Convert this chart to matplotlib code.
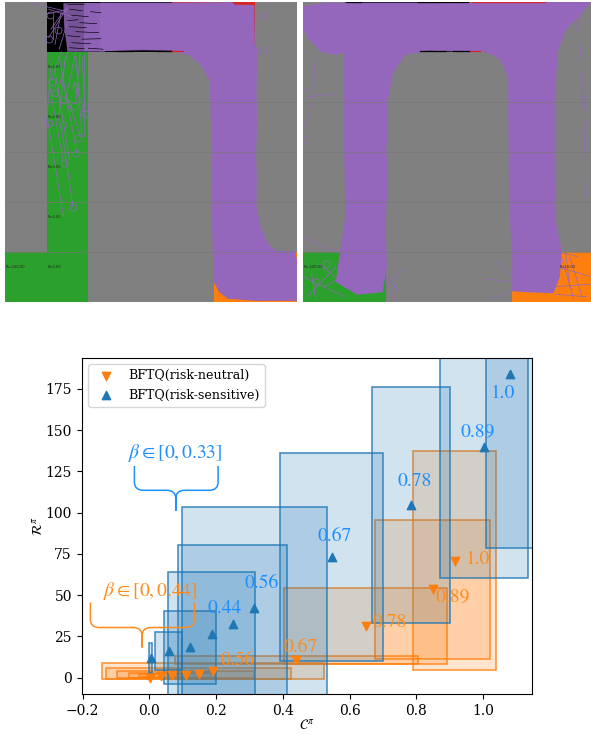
import matplotlib
matplotlib.use('Agg')
import matplotlib.pyplot as plt
from matplotlib.colors import ListedColormap, to_rgba
from matplotlib.patches import Polygon, Rectangle, PathPatch
from matplotlib.path import Path

W, H = 591, 734

# ---- gridworld panels (positions in cell units, 7 x 6 cells) ----
cell_colors = ['#808080', '#2ca02c', '#ff7f0e', '#d62728', '#000000']
grid_cells = [
    [0, 4, 4, 4, 3, 3, 0],
    [0, 1, 0, 0, 0, 0, 0],
    [0, 1, 0, 0, 0, 0, 0],
    [0, 1, 0, 0, 0, 0, 0],
    [0, 1, 0, 0, 0, 0, 0],
    [1, 1, 0, 0, 0, 2, 2],
]
left_texts = [(1.02, 1.3, 'R=1.67'), (1.02, 2.3, 'R=2.00'), (1.02, 3.3, 'R=3.00'),
              (1.02, 4.3, 'R=4.00'), (1.02, 5.3, 'R=5.00'), (0.02, 5.3, 'R=-100.00')]
right_texts = [(0.02, 5.3, 'R=-100.00'), (6.17, 5.3, 'R=10.00')]

left_band = [(2.3, 0.03), (3.5, 0.03), (4.2, 0.03), (5.45, 0.02), (5.5, 0.07), (5.97, 0.08), (5.98, 0.85),
             (6.04, 0.95), (6.04, 1.3), (6.02, 1.8), (6.04, 2.5), (6.01, 3.0), (6.03, 3.5), (6.02, 4.1),
             (6.12, 4.5), (6.3, 4.85), (6.5, 5.0), (6.95, 5.0), (7.0, 5.2), (7.0, 5.97), (6.0, 5.97),
             (5.35, 5.93), (5.15, 5.8), (5.02, 5.6), (5.0, 4.97),
             (4.96, 3.97), (4.98, 3.2), (4.94, 1.97), (4.92, 1.57), (4.68, 1.23), (4.44, 1.07),
             (4.04, 0.97), (3.3, 0.96), (2.28, 0.98)]
left_haze = [(1.4, 0.03), (2.4, 0.03), (2.4, 1.0), (1.5, 1.0), (1.42, 0.5)]
left_haze_dense = [(1.9, 0.03), (2.45, 0.03), (2.45, 0.98), (1.9, 0.98)]
left_streaks = [
    [(1.05, 0.1), (1.3, 0.12)], [(1.1, 0.4), (1.35, 0.42)], [(1.5, 0.05), (1.9, 0.06)], [(1.55, 0.15), (1.85, 0.18)],
    [(1.6, 0.27), (2.0, 0.3)], [(1.5, 0.38), (1.75, 0.36)], [(1.8, 0.42), (2.2, 0.44)], [(1.55, 0.5), (1.95, 0.52)],
    [(1.7, 0.6), (2.25, 0.62)], [(1.5, 0.68), (1.8, 0.7)], [(1.85, 0.75), (2.3, 0.74)], [(1.6, 0.82), (2.05, 0.84)],
    [(1.55, 0.92), (1.9, 0.94)], [(2.05, 0.2), (2.3, 0.22)], [(2.0, 0.93), (2.35, 0.95)],
]
left_edges = [(2.68, 3.08, 0.985, '#000000'), (3.64, 4.0, 0.985, '#000000'), (4.0, 4.28, 0.985, '#d62728')]
left_segments = [
    [(1.0, 0.25), (1.5, 0.15)], [(0.65, 0.03), (1.5, 0.2)], [(1.05, 0.72), (1.5, 0.1)],
    [(1.1, 0.55), (1.4, 0.2)], [(1.2, 0.85), (1.35, 0.2)], [(1.3, 0.95), (1.5, 0.4)],
    [(1.05, 0.15), (1.6, 0.3)], [(1.15, 0.3), (1.15, 0.75)], [(1.35, 1.0), (1.1, 1.6)],
    [(1.5, 1.0), (1.25, 1.9)], [(1.7, 1.0), (1.45, 1.97)], [(1.8, 1.05), (1.7, 2.05)],
    [(1.45, 1.1), (1.28, 2.38)], [(1.9, 1.05), (1.9, 2.7)], [(1.7, 1.1), (1.85, 2.7)],
    [(1.3, 1.1), (1.72, 3.02)], [(1.2, 1.4), (1.55, 3.17)], [(1.1, 1.3), (1.0, 2.4)],
    [(1.03, 2.4), (1.4, 4.28)], [(1.05, 1.6), (1.4, 3.2)], [(1.35, 2.5), (1.63, 4.1)],
    [(1.4, 1.7), (1.82, 2.7)], [(1.65, 1.6), (1.9, 2.15)], [(1.85, 1.1), (1.92, 2.2)],
]
left_circles = [(1.08, 0.27), (1.26, 0.57), (1.06, 0.75), (1.12, 1.6), (1.2, 1.83), (1.38, 1.97),
                (1.66, 2.09), (1.92, 2.13), (1.92, 2.22), (1.06, 2.42), (1.38, 2.47), (1.75, 2.73),
                (1.7, 3.03), (1.42, 3.23), (1.64, 4.1), (1.7, 1.7), (6.2, 0.97), (6.2, 0.27)]

right_band = [(0.0, 0.1), (0.6, 0.03), (3.0, 0.03), (6.9, 0.0), (6.6, 0.3), (6.3, 0.55), (6.1, 1.0),
              (6.03, 1.9), (6.03, 3.5), (6.05, 4.4), (6.2, 5.0), (6.15, 5.5), (6.0, 5.82), (5.4, 5.8),
              (5.02, 5.78), (5.02, 5.0), (4.96, 4.0), (4.94, 2.5), (4.92, 1.5), (4.75, 1.15), (4.4, 1.0),
              (3.0, 0.97), (2.45, 1.05), (2.15, 1.4), (2.02, 2.0), (2.02, 2.8), (1.98, 2.9), (2.02, 3.4),
              (2.0, 3.9), (1.97, 4.5), (2.0, 5.3), (1.9, 5.8), (1.3, 5.85), (0.8, 5.6), (0.9, 5.0),
              (1.03, 4.3), (1.0, 3.0), (1.0, 1.0), (0.8, 1.05), (0.45, 1.0), (0.2, 0.8), (0.0, 0.55)]
right_edges = [(1.05, 1.4, 0.015, '#000000'), (2.75, 3.95, 0.015, '#000000'), (4.05, 5.8, 0.015, '#d62728'),
               (2.8, 3.4, 0.98, '#000000'), (3.6, 4.0, 0.98, '#000000'), (4.0, 4.25, 0.98, '#d62728')]
right_segments = [
    [(0.0, 4.7), (0.8, 5.0)], [(0.1, 5.9), (0.8, 5.3)], [(0.2, 5.4), (0.3, 5.95)], [(0.0, 5.5), (1.0, 5.9)],
    [(0.4, 5.25), (0.9, 5.6)], [(0.5, 5.7), (0.95, 5.5)], [(2.0, 5.7), (2.4, 5.35)], [(2.0, 5.5), (2.3, 5.8)],
    [(2.0, 5.6), (2.2, 5.98)], [(5.0, 5.6), (4.4, 5.55)], [(5.0, 5.8), (4.5, 5.95)], [(5.1, 5.6), (4.65, 5.2)],
    [(6.1, 5.0), (6.6, 5.1)], [(6.1, 5.3), (6.9, 5.5)], [(6.0, 5.7), (6.9, 5.65)], [(6.2, 5.1), (6.5, 5.95)],
    [(6.3, 5.0), (6.4, 5.7)], [(6.4, 5.1), (6.7, 5.9)], [(6.05, 5.85), (6.8, 5.9)], [(6.6, 0.3), (6.72, 1.7)],
    [(6.72, 1.7), (6.8, 2.5)], [(6.72, 1.9), (6.8, 3.9)], [(0.0, 1.8), (0.3, 1.7)], [(0.3, 1.0), (0.25, 1.8)],
    [(0.25, 1.8), (0.05, 2.6)], [(0.1, 1.9), (0.75, 1.85)],
]
right_circles = [(0.55, 5.25), (0.3, 5.6), (0.02, 2.75), (6.75, 1.83)]

# ---- return / cost scatter ----
neutral_c = [0.002, 0.034, 0.069, 0.109, 0.148, 0.19, 0.441, 0.648, 0.849, 0.915]
neutral_r = [0.0, 1.2, 1.4, 1.8, 2.4, 3.8, 10.4, 31.0, 53.4, 70.8]
neutral_c_std = [0.012, 0.064, 0.129, 0.205, 0.278, 0.332, 0.363, 0.244, 0.172, 0.125]
neutral_r_std = [0.3, 0.8, 1.6, 2.2, 3.1, 4.7, 2.4, 23.0, 42.3, 66.5]

sensitive_c = [0.004, 0.058, 0.122, 0.187, 0.25, 0.314, 0.546, 0.783, 1.003, 1.082]
sensitive_r = [11.8, 16.0, 18.2, 26.5, 32.7, 41.9, 73.2, 104.5, 140.0, 183.9]
sensitive_c_std = [0.005, 0.041, 0.077, 0.131, 0.163, 0.217, 0.153, 0.117, 0.131, 0.074]
sensitive_r_std = [9.2, 11.7, 22.4, 37.5, 47.5, 61.5, 63.0, 71.5, 79.6, 105.4]

neutral_labels = [(0.265, 10.5, '0.56'), (0.452, 18.0, '0.67'), (0.719, 33.4, '0.78'),
                  (0.908, 48.9, '0.89'), (0.985, 71.6, '1.0')]
sensitive_labels = [(0.227, 42.0, '0.44'), (0.337, 57.0, '0.56'), (0.555, 85.3, '0.67'),
                    (0.794, 119.0, '0.78'), (0.984, 149.0, '0.89'), (1.061, 172.0, '1.0')]

plt.rcParams['mathtext.fontset'] = 'stix'
plt.rcParams['font.family'] = 'DejaVu Serif'

fig = plt.figure(figsize=(W / 100, H / 100), dpi=100)


def pixel_axes(left, top, right, bottom):
    return fig.add_axes([left / W, 1 - bottom / H, (right - left) / W, (bottom - top) / H])


def draw_grid(ax, band, segments, circles, texts, edges, hazes=(), streaks=()):
    ax.imshow(grid_cells, cmap=ListedColormap(cell_colors), vmin=0, vmax=4,
              extent=(0, 7, 6, 0), aspect='auto', interpolation='nearest')
    for y in [2, 3, 4, 5]:
        ax.axhline(y, color='#787878', lw=0.5)
    for x, y, s in texts:
        ax.text(x, y, s, fontsize=2.6, family='DejaVu Sans', color='#222222', va='center')
    for haze in hazes:
        ax.add_patch(Polygon(haze, closed=True, fc='#9467bd', ec='none', alpha=0.8))
    for st in streaks:
        ax.plot([st[0][0], st[1][0]], [st[0][1], st[1][1]], color='#000000', lw=0.45)
    ax.add_patch(Polygon(band, closed=True, fc='#9467bd', ec='#9467bd', lw=0.8))
    for x0, x1, y, col in edges:
        ax.plot([x0, x1], [y, y], color=col, lw=0.9)
    for seg in segments:
        ax.plot([seg[0][0], seg[1][0]], [seg[0][1], seg[1][1]], color='#9467bd', lw=0.5)
    ax.plot([c[0] for c in circles], [c[1] for c in circles], ls='none', marker='o', ms=5,
            mfc='none', mec='#9467bd', mew=0.5)
    ax.set_xlim(0, 7)
    ax.set_ylim(6, 0)
    ax.axis('off')


ax_left = pixel_axes(5, 1.7, 296.7, 301.7)
draw_grid(ax_left, left_band, left_segments, left_circles, left_texts, left_edges,
          hazes=[left_haze, left_haze_dense], streaks=left_streaks)
ax_right = pixel_axes(303, 1.7, 594.7, 301.7)
draw_grid(ax_right, right_band, right_segments, right_circles, right_texts, right_edges)

ax = pixel_axes(81.7, 358, 532.3, 694)


def draw_boxes(cs, rs, c_std, r_std, color):
    for c, r, cs_, rs_ in zip(cs, rs, c_std, r_std):
        ax.add_patch(Rectangle((c - cs_, r - rs_), 2 * cs_, 2 * rs_, fc=to_rgba(color, 0.2),
                               ec=to_rgba(color, 0.8), lw=1.2))


def draw_brace(x0, x1, tip_x, y_top, y_mid, y_tip, color):
    dx, dy = 0.027, 5.0
    verts = [(x0, y_top), (x0, y_mid + dy), (x0, y_mid), (x0 + dx, y_mid),
             (tip_x - dx, y_mid), (tip_x, y_mid), (tip_x, y_mid - dy),
             (tip_x, y_tip), (tip_x, y_mid - dy),
             (tip_x, y_mid), (tip_x + dx, y_mid),
             (x1 - dx, y_mid), (x1, y_mid), (x1, y_mid + dy), (x1, y_top)]
    codes = [Path.MOVETO, Path.LINETO, Path.CURVE3, Path.CURVE3,
             Path.LINETO, Path.CURVE3, Path.CURVE3,
             Path.LINETO, Path.LINETO,
             Path.CURVE3, Path.CURVE3,
             Path.LINETO, Path.CURVE3, Path.CURVE3, Path.LINETO]
    ax.add_patch(PathPatch(Path(verts, codes), fc='none', ec=color, lw=1.1))


draw_boxes(neutral_c, neutral_r, neutral_c_std, neutral_r_std, '#ff7f0e')
draw_boxes(sensitive_c, sensitive_r, sensitive_c_std, sensitive_r_std, '#1f77b4')

ax.scatter(neutral_c, neutral_r, marker='v', s=36, color='#ff7f0e', zorder=3, label='BFTQ(risk-neutral)')
ax.scatter(sensitive_c, sensitive_r, marker='^', s=36, color='#1f77b4', zorder=3, label='BFTQ(risk-sensitive)')

for x, y, s in neutral_labels:
    ax.text(x, y, s, color='#ff8c1a', fontsize=14, family='STIXGeneral', ha='center', va='center', zorder=4)
for x, y, s in sensitive_labels:
    ax.text(x, y, s, color='#1e8fff', fontsize=14, family='STIXGeneral', ha='center', va='center', zorder=4)

ax.text(0.077, 136, r'$\beta\in[0,0.33]$', color='#1e8fff', fontsize=14, ha='center', va='center')
ax.text(0.002, 52.4, r'$\beta\in[0,0.44]$', color='#ff8c1a', fontsize=14, ha='center', va='center')
draw_brace(-0.045, 0.206, 0.079, 128.2, 113.5, 101.0, '#1e8fff')
draw_brace(-0.177, 0.135, -0.022, 45.5, 30.3, 18.2, '#ff8c1a')

ax.set_xlim(-0.203, 1.148)
ax.set_ylim(-10, 193.7)
ax.set_xticks([-0.2, 0.0, 0.2, 0.4, 0.6, 0.8, 1.0])
ax.set_yticks([0, 25, 50, 75, 100, 125, 150, 175])
ax.set_xlabel(r'$\mathcal{C}^\pi$', fontsize=10, labelpad=0)
ax.set_ylabel(r'$\mathcal{R}^\pi$', fontsize=10, labelpad=0)
ax.legend(loc='upper left', fontsize=9.1, borderaxespad=0.5)

fig.savefig('out.png', dpi=100)
